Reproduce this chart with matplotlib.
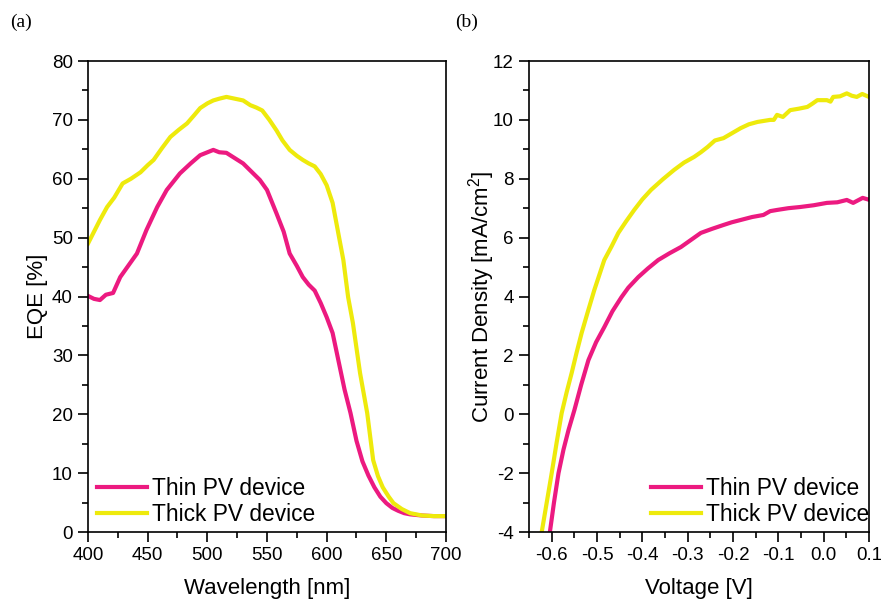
import matplotlib
matplotlib.use('Agg')
import matplotlib.pyplot as plt
from matplotlib.ticker import MultipleLocator

plt.rcParams.update({
    'font.family': ['Liberation Sans', 'DejaVu Sans'],
    'mathtext.fontset': 'custom',
    'mathtext.rm': 'Liberation Sans',
    'mathtext.it': 'Liberation Sans:italic',
    'font.size': 13.5,
})

THIN = '#ec1a80'
THICK = '#eeea0c'

# (a) EQE spectra
wl_thin = [400, 405, 410, 415, 421, 427, 434, 441, 449, 458, 466, 477, 486, 494,
           505, 510, 516, 523, 530, 537, 544, 550, 558, 564, 569, 575, 580, 585,
           590, 595, 600, 605, 610, 615, 620, 625, 630, 635, 640, 645, 650, 655,
           660, 665, 670, 680, 690, 700]
eqe_thin = [40.1, 39.6, 39.4, 40.3, 40.6, 43.3, 45.3, 47.3, 51.3, 55.2, 58.1, 60.9, 62.6, 64.0,
            64.9, 64.5, 64.4, 63.5, 62.6, 61.2, 59.8, 58.1, 54.1, 51.0, 47.3, 45.2, 43.3, 42.0,
            41.0, 38.9, 36.5, 33.8, 29.0, 24.2, 20.2, 15.5, 12.0, 9.6, 7.6, 6.0, 4.9, 4.1,
            3.6, 3.2, 3.0, 2.8, 2.7, 2.7]

wl_thick = [400, 405, 410, 416, 422, 429, 436, 444, 450, 455, 462, 469, 476, 483,
            489, 494, 500, 505, 510, 516, 523, 530, 536, 541, 546, 552, 558, 563,
            569, 575, 580, 585, 590, 595, 600, 605, 610, 614, 618, 622, 628, 634,
            639, 643, 647, 652, 656, 663, 670, 680, 690, 700]
eqe_thick = [49.0, 51.0, 53.0, 55.2, 56.8, 59.2, 60.0, 61.1, 62.3, 63.2, 65.2, 67.1, 68.3, 69.4,
             70.8, 72.0, 72.8, 73.3, 73.6, 73.9, 73.6, 73.3, 72.5, 72.1, 71.6, 70.0, 68.2, 66.5,
             64.9, 63.9, 63.2, 62.6, 62.1, 60.8, 58.9, 55.9, 50.5, 46.2, 39.9, 35.5, 27.0, 20.2,
             12.2, 9.5, 7.6, 6.0, 4.9, 3.9, 3.2, 2.8, 2.7, 2.7]

# (b) J-V curves
v_thin = [-0.604, -0.595, -0.585, -0.574, -0.563, -0.550, -0.535, -0.519, -0.502, -0.484,
          -0.466, -0.446, -0.431, -0.409, -0.388, -0.365, -0.340, -0.315, -0.293, -0.271,
          -0.246, -0.221, -0.203, -0.183, -0.158, -0.133, -0.118, -0.103, -0.078, -0.052,
          -0.022, 0.007, 0.030, 0.051, 0.065, 0.086, 0.097]
j_thin = [-4.0, -3.0, -2.0, -1.2, -0.54, 0.14, 1.0, 1.84, 2.45, 2.96,
          3.5, 3.98, 4.3, 4.66, 4.95, 5.24, 5.47, 5.68, 5.92, 6.16,
          6.3, 6.43, 6.52, 6.6, 6.7, 6.77, 6.9, 6.94, 7.0, 7.04,
          7.1, 7.18, 7.2, 7.28, 7.18, 7.35, 7.3]

v_thick = [-0.622, -0.611, -0.600, -0.589, -0.578, -0.567, -0.556, -0.545, -0.534, -0.520,
           -0.506, -0.484, -0.468, -0.453, -0.436, -0.418, -0.400, -0.381, -0.355, -0.330,
           -0.308, -0.286, -0.271, -0.256, -0.240, -0.221, -0.202, -0.183, -0.165, -0.146,
           -0.118, -0.110, -0.103, -0.090, -0.074, -0.055, -0.036, -0.025, -0.014, 0.007,
           0.015, 0.021, 0.036, 0.051, 0.062, 0.073, 0.085, 0.097]
j_thick = [-4.0, -3.0, -2.0, -0.95, 0.04, 0.75, 1.4, 2.1, 2.76, 3.5,
           4.22, 5.24, 5.7, 6.16, 6.55, 6.94, 7.3, 7.62, 7.98, 8.3,
           8.55, 8.74, 8.9, 9.08, 9.3, 9.38, 9.55, 9.72, 9.85, 9.93,
           10.0, 10.0, 10.17, 10.1, 10.33, 10.38, 10.44, 10.55, 10.67, 10.67,
           10.62, 10.78, 10.8, 10.9, 10.82, 10.78, 10.88, 10.8]

fig = plt.figure(figsize=(8.81, 6.01), dpi=100)
ax1 = fig.add_axes([0.0999, 0.1148, 0.4063, 0.7837])
ax2 = fig.add_axes([0.6005, 0.1148, 0.3859, 0.7837])

for ax in (ax1, ax2):
    ax.tick_params(which='major', direction='out', length=7, width=1.2,
                   top=False, right=False, labelsize=13.5, pad=4)
    ax.tick_params(which='minor', direction='out', length=4, width=1.2,
                   top=False, right=False)
    for s in ax.spines.values():
        s.set_linewidth(1.2)

leg_kw = dict(frameon=False, fontsize=16.4, handlelength=2.2, handletextpad=0.22,
              labelspacing=0.15, borderpad=0, borderaxespad=0)

ax1.plot(wl_thin, eqe_thin, color=THIN, lw=3, label='Thin PV device')
ax1.plot(wl_thick, eqe_thick, color=THICK, lw=3, label='Thick PV device')
ax1.set_xlim(400, 700)
ax1.set_ylim(0, 80)
ax1.xaxis.set_major_locator(MultipleLocator(50))
ax1.xaxis.set_minor_locator(MultipleLocator(25))
ax1.yaxis.set_major_locator(MultipleLocator(10))
ax1.yaxis.set_minor_locator(MultipleLocator(5))
ax1.set_xlabel('Wavelength [nm]', fontsize=16, labelpad=10)
ax1.set_ylabel('EQE [%]', fontsize=16, labelpad=3)
ax1.legend(loc='lower left', bbox_to_anchor=(0.025, 0.012), **leg_kw)

ax2.plot(v_thin, j_thin, color=THIN, lw=3, label='Thin PV device')
ax2.plot(v_thick, j_thick, color=THICK, lw=3, label='Thick PV device')
ax2.set_xlim(-0.65, 0.1)
ax2.set_ylim(-4, 12)
ax2.xaxis.set_minor_locator(MultipleLocator(0.05))
ax2.yaxis.set_minor_locator(MultipleLocator(1))
ax2.set_xticks([-0.6, -0.5, -0.4, -0.3, -0.2, -0.1, 0.0, 0.1])
ax2.set_xticklabels(['-0.6', '-0.5', '-0.4', '-0.3', '-0.2', '-0.1', '0.0', '0.1'])
ax2.set_yticks([-4, -2, 0, 2, 4, 6, 8, 10, 12])
ax2.set_yticklabels(['-4', '-2', '0', '2', '4', '6', '8', '10', '12'])
ax2.set_xlabel('Voltage [V]', fontsize=16, labelpad=10)
ax2.set_ylabel('Current Density [mA/cm$^{2}$]', fontsize=16, labelpad=-3)
ax2.legend(loc='lower right', bbox_to_anchor=(1.0, 0.012), **leg_kw)

fig.text(0.012, 0.963, '(a)', family=['Liberation Serif'], fontsize=14, va='center')
fig.text(0.517, 0.963, '(b)', family=['Liberation Serif'], fontsize=14, va='center')

fig.savefig('out.png', dpi=100)
